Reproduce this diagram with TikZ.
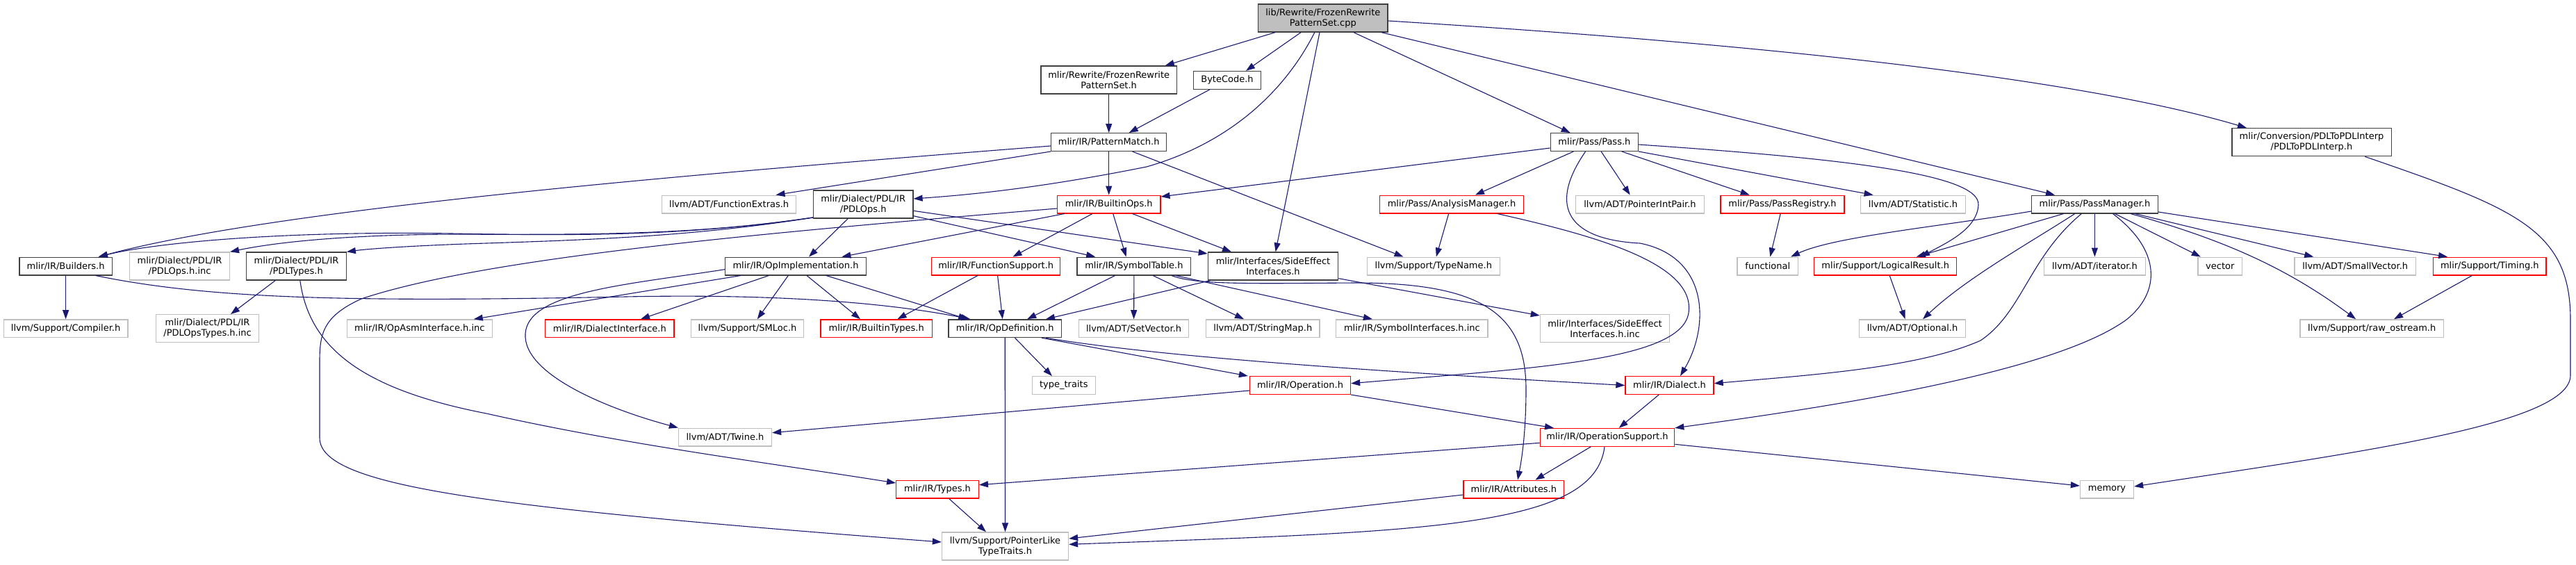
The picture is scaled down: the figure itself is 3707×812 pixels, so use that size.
\documentclass[tikz,border=0pt]{standalone}
\usepackage{fontspec}
\setmainfont{DejaVu Sans}
\usetikzlibrary{arrows.meta,calc}
\definecolor{edgec}{HTML}{191970}
\definecolor{grayb}{HTML}{BFBFBF}
\definecolor{rootfill}{HTML}{BFBFBF}
\definecolor{darkb}{HTML}{404040}
\definecolor{redb}{HTML}{FF0000}
\newcommand{\nodefont}{\fontsize{13}{15}\selectfont}
\tikzset{
  box/.style={line width=1.3pt, fill=white, inner sep=0pt, align=center, font=\nodefont, text=black},
  nb/.style={box, draw=darkb},
  ng/.style={box, draw=grayb},
  nr/.style={box, draw=redb},
  one/.style={minimum height=25.7pt},
  two/.style={minimum height=40pt},
  e/.style={draw=edgec, line width=1.1pt, -{Triangle[length=13pt,width=9pt,color=edgec,fill=edgec]}},
}
\begin{document}
\begin{tikzpicture}[x=1pt,y=-1pt]
\fill[white] (0,0) rectangle (3707,812);
\useasboundingbox (0,0) rectangle (3707,812);

% rank 0
\node[nb,two,fill=rootfill,minimum width=186.2pt] (root) at (1903.8,26) {lib/Rewrite/FrozenRewrite\\PatternSet.cpp};
% rank 1
\node[nb,two,minimum width=195.7pt] (frozenh) at (1595.7,115) {mlir/Rewrite/FrozenRewrite\\PatternSet.h};
\node[nb,one,minimum width=97.3pt] (bytecode) at (1766,115.3) {ByteCode.h};
% rank 2
\node[nb,one,minimum width=166pt] (patternmatch) at (1595.7,204.5) {mlir/IR/PatternMatch.h};
\node[nb,one,minimum width=126.3pt] (pass) at (2294.4,204.5) {mlir/Pass/Pass.h};
\node[nb,two,minimum width=229.3pt] (pdltopdl) at (3326.5,204.7) {mlir/Conversion/PDLToPDLInterp\\/PDLToPDLInterp.h};
% rank 3
\node[ng,one,minimum width=192.8pt] (funcextras) at (1049.2,294) {llvm/ADT/FunctionExtras.h};
\node[nb,two,minimum width=143.5pt] (pdlops) at (1242.2,294) {mlir/Dialect/PDL/IR\\/PDLOps.h};
\node[nr,one,minimum width=148.3pt] (builtinops) at (1595.7,294) {mlir/IR/BuiltinOps.h};
\node[nr,one,minimum width=207pt] (analysis) at (2089,294) {mlir/Pass/AnalysisManager.h};
\node[ng,one,minimum width=185pt] (ptrintpair) at (2360,294) {llvm/ADT/PointerIntPair.h};
\node[nr,one,minimum width=178pt] (passreg) at (2565,294) {mlir/Pass/PassRegistry.h};
\node[ng,one,minimum width=150.7pt] (statistic) at (2753,294) {llvm/ADT/Statistic.h};
\node[nb,one,minimum width=181.8pt] (passmgr) at (3014.4,294) {mlir/Pass/PassManager.h};
% rank 4
\node[nb,one,minimum width=133.4pt] (builders) at (94.6,383) {mlir/IR/Builders.h};
\node[ng,two,minimum width=143.6pt] (pdlopsinc) at (258.6,383) {mlir/Dialect/PDL/IR\\/PDLOps.h.inc};
\node[nb,two,minimum width=143.5pt] (pdltypes) at (426.5,383) {mlir/Dialect/PDL/IR\\/PDLTypes.h};
\node[nb,one,minimum width=203pt] (opimpl) at (1145,383) {mlir/IR/OpImplementation.h};
\node[nr,one,minimum width=185pt] (funcsupport) at (1433.2,383) {mlir/IR/FunctionSupport.h};
\node[nb,one,minimum width=163.7pt] (symboltable) at (1631.9,383) {mlir/IR/SymbolTable.h};
\node[nb,two,minimum width=187.3pt] (sideeffect) at (1832,383) {mlir/Interfaces/SideEffect\\Interfaces.h};
\node[ng,one,minimum width=191pt] (typename) at (2062.8,383) {llvm/Support/TypeName.h};
\node[ng,one,minimum width=87.8pt] (functional) at (2543.8,383) {functional};
\node[nr,one,minimum width=204.8pt] (logical) at (2713.2,383) {mlir/Support/LogicalResult.h};
\node[ng,one,minimum width=145.8pt] (iterator) at (3014.4,383) {llvm/ADT/iterator.h};
\node[ng,one,minimum width=63.6pt] (vector) at (3194.8,383) {vector};
\node[ng,one,minimum width=174.7pt] (smallvector) at (3389.2,383) {llvm/ADT/SmallVector.h};
\node[nr,one,minimum width=162.5pt] (timing) at (3582.8,383) {mlir/Support/Timing.h};
% rank 5
\node[ng,one,minimum width=178.6pt] (compiler) at (94.6,472.7) {llvm/Support/Compiler.h};
\node[ng,two,minimum width=147.7pt] (pdlopstypesinc) at (298.6,472.7) {mlir/Dialect/PDL/IR\\/PDLOpsTypes.h.inc};
\node[ng,one,minimum width=208.8pt] (opasm) at (603.8,472.7) {mlir/IR/OpAsmInterface.h.inc};
\node[nr,one,minimum width=185.3pt] (dialectiface) at (877.4,472.7) {mlir/IR/DialectInterface.h};
\node[ng,one,minimum width=162.5pt] (smloc) at (1075.5,472.7) {llvm/Support/SMLoc.h};
\node[nr,one,minimum width=160.2pt] (builtintypes) at (1261.2,472.7) {mlir/IR/BuiltinTypes.h};
\node[nb,one,minimum width=162.5pt] (opdef) at (1446.2,472.7) {mlir/IR/OpDefinition.h};
\node[ng,one,minimum width=158.4pt] (setvector) at (1631.6,472.7) {llvm/ADT/SetVector.h};
\node[ng,one,minimum width=163.3pt] (stringmap) at (1817.3,472.7) {llvm/ADT/StringMap.h};
\node[ng,one,minimum width=218.2pt] (symiface) at (2031.9,472.7) {mlir/IR/SymbolInterfaces.h.inc};
\node[ng,two,minimum width=186.2pt] (sideeffinc) at (2309.5,472.7) {mlir/Interfaces/SideEffect\\Interfaces.h.inc};
\node[ng,one,minimum width=153pt] (optional) at (2752,472.7) {llvm/ADT/Optional.h};
\node[ng,one,minimum width=206.3pt] (rawostream) at (3413.2,472.7) {llvm/Support/raw\_ostream.h};
% rank 6
\node[ng,one,minimum width=90.8pt] (typetraits) at (1530.8,554.5) {type\_traits};
\node[nr,one,minimum width=145pt] (operation) at (1871,554.5) {mlir/IR/Operation.h};
\node[nr,one,minimum width=127pt] (dialect) at (2402.5,554.5) {mlir/IR/Dialect.h};
% rank 7
\node[ng,one,minimum width=134pt] (twine) at (1043.5,629) {llvm/ADT/Twine.h};
\node[nr,one,minimum width=193.3pt] (opsupport) at (2313,629.3) {mlir/IR/OperationSupport.h};
% rank 8
\node[nr,one,minimum width=118.6pt] (types) at (1349,704) {mlir/IR/Types.h};
\node[nr,one,minimum width=144.8pt] (attributes) at (2178.4,704) {mlir/IR/Attributes.h};
\node[ng,one,minimum width=77pt] (memory) at (3032,704) {memory};
% rank 9
\node[ng,two,minimum width=182pt] (pointerlike) at (1446.5,786) {llvm/Support/PointerLike\\TypeTraits.h};

% ---- edges from root
\draw[e] ($(root.south)+(-68.8,0)$) -- ($(frozenh.north)+(81,0)$);
\draw[e] ($(root.south)+(-31.8,0)$) -- ($(bytecode.north)+(27,0)$);
\draw[e] ($(root.south)+(-12,0)$) .. controls (1860,110) and (1790,200) .. (1650,240) .. controls (1500,270) and (1400,280) .. ($(pdlops.east)+(0,-8)$);
\draw[e] ($(root.south)+(-4.8,0)$) -- ($(sideeffect.north)+(3.6,0)$);
\draw[e] ($(root.south)+(44.2,0)$) -- ($(pass.north)+(-34.7,0)$);
\draw[e] ($(root.south)+(84.2,0)$) -- ($(passmgr.north)+(-57.4,0)$);
\draw[e] ($(root.east)+(0,4)$) .. controls (2400,55) and (2950,100) .. ($(pdltopdl.north)+(-93.5,0)$);

% ---- rank 1
\draw[e] (frozenh.south) -- (patternmatch.north);
\draw[e] ($(bytecode.south)+(-25,0)$) -- ($(patternmatch.north)+(29,0)$);

% ---- PatternMatch
\draw[e] ($(patternmatch.west)+(0,5.5)$) .. controls (1000,250) and (400,300) .. ($(builders.north)+(47.4,0)$);
\draw[e] (patternmatch.south west) -- ($(funcextras.north)+(67.3,0)$);
\draw[e] (patternmatch.south) -- (builtinops.north);
\draw[e] ($(patternmatch.south)+(33.8,0)$) -- ($(typename.north)+(-43.3,0)$);

% ---- Pass.h
\draw[e] ($(pass.west)+(0,8.5)$) -- ($(builtinops.east)+(0,-11)$);
\draw[e] ($(pass.south)+(-30,0)$) -- ($(analysis.north)+(34,0)$);
\draw[e] ($(pass.south)+(-12.8,0)$) .. controls (2225,300) and (2260,345) .. (2360,350) .. controls (2460,370) and (2460,470) .. ($(dialect.north)+(15.5,0)$);
\draw[e] ($(pass.south)+(9.7,0)$) -- ($(ptrintpair.north)+(-14.3,0)$);
\draw[e] ($(pass.south)+(39.4,0)$) -- ($(passreg.north)+(-47.3,0)$);
\draw[e] (pass.south east) -- ($(statistic.north)+(-57.4,0)$);
\draw[e] ($(pass.east)+(0,3.5)$) .. controls (2650,228) and (2850,250) .. (2847,295) .. controls (2845,330) and (2800,350) .. ($(logical.north)+(50.8,0)$);

% ---- AnalysisManager
\draw[e] ($(analysis.south)+(-4.3,0)$) -- ($(typename.north)+(4,0)$);
\draw[e] ($(analysis.south)+(65.7,0)$) .. controls (2300,340) and (2440,380) .. (2430,450) .. controls (2420,520) and (2200,530) .. ($(operation.east)+(0,-2.8)$);

% ---- PassRegistry
\draw[e] ($(passreg.south)+(-2.8,0)$) -- ($(functional.north)+(3.5,0)$);

% ---- PassManager
\draw[e] ($(passmgr.west)+(0,10)$) .. controls (2800,325) and (2640,340) .. ($(functional.north)+(33.2,0)$);
\draw[e] ($(passmgr.south)+(-44.7,0)$) -- ($(logical.north)+(44.6,0)$);
\draw[e] ($(passmgr.south)+(-28.6,0)$) .. controls (2920,350) and (2830,400) .. ($(optional.north)+(15,0)$);
\draw[e] ($(passmgr.south)+(-19,0)$) .. controls (2920,370) and (2910,450) .. (2850,490) .. controls (2760,530) and (2600,540) .. ($(dialect.east)+(0,-2.8)$);
\draw[e] (passmgr.south) -- (iterator.north);
\draw[e] ($(passmgr.south)+(26,0)$) .. controls (3110,360) and (3110,420) .. (3060,460) .. controls (2950,540) and (2600,590) .. (opsupport.north east);
\draw[e] ($(passmgr.south)+(29,0)$) -- ($(vector.north)+(-28,0)$);
\draw[e] ($(passmgr.south)+(51.6,0)$) .. controls (3200,345) and (3290,385) .. ($(rawostream.north)+(-23,0)$);
\draw[e] ($(passmgr.south)+(58,0)$) -- ($(smallvector.north)+(-60,0)$);
\draw[e] ($(passmgr.east)+(0,11)$) -- ($(timing.north)+(-60.8,0)$);

\draw[e] ($(timing.south)+(-25.4,0)$) -- ($(rawostream.north)+(31.8,0)$);
\draw[e] ($(logical.south)+(6,0)$) -- ($(optional.north)+(-10.3,0)$);
\draw[e] ($(pdltopdl.south)+(76.8,0)$) .. controls (3620,300) and (3699,330) .. (3699,460) -- (3699,540) .. controls (3699,610) and (3400,650) .. ($(memory.east)+(0,-4)$);

% ---- BuiltinOps
\draw[e] ($(builtinops.south)+(-64,0)$) -- ($(opimpl.north)+(66.4,0)$);
\draw[e] ($(builtinops.south)+(-23.7,0)$) -- ($(funcsupport.north)+(24.3,0)$);
\draw[e] ($(builtinops.south)+(6,0)$) -- ($(symboltable.north)+(-11.3,0)$);
\draw[e] ($(builtinops.south)+(33.8,0)$) -- ($(sideeffect.north)+(-60,0)$);
\draw[e] ($(builtinops.west)+(0,6)$) .. controls (1100,335) and (700,370) .. (520,430) .. controls (465,455) and (460,480) .. (460,520) -- (460,630) .. controls (460,700) and (700,730) .. ($(pointerlike.west)+(0,-6)$);

% ---- PDLOps
\draw[e] ($(pdlops.west)+(0,19)$) .. controls (1000,338) and (850,340) .. (650,336) .. controls (400,332) and (220,350) .. ($(builders.north)+(47,0)$);
\draw[e] ($(pdlops.west)+(0,19)$) .. controls (1000,338) and (850,338) .. (650,337) .. controls (500,338) and (400,348) .. (pdlopsinc.north east);
\draw[e] ($(pdlops.west)+(0,19)$) .. controls (1000,340) and (850,345) .. (700,350) .. controls (600,353) and (530,358) .. (pdltypes.north east);
\draw[e] ($(pdlops.south)+(-22,0)$) -- ($(opimpl.north)+(19,0)$);
\draw[e] ($(pdlops.east)+(0,9.3)$) -- ($(sideeffect.west)+(0,-18)$);
\draw[e] ($(pdlops.east)+(0,16.7)$) -- ($(symboltable.north)+(-55.7,0)$);

% ---- OpImplementation
\draw[e] ($(opimpl.west)+(0,4.7)$) .. controls (900,410) and (760,420) .. (756,480) .. controls (752,540) and (880,590) .. (twine.north west);
\draw[e] ($(opimpl.south)+(-79,0)$) -- ($(opasm.north)+(78,0)$);
\draw[e] ($(opimpl.south)+(-38.6,0)$) -- ($(dialectiface.north)+(44.6,0)$);
\draw[e] ($(opimpl.south)+(-10.7,0)$) -- ($(smloc.north)+(14.3,0)$);
\draw[e] ($(opimpl.south)+(16,0)$) -- ($(builtintypes.north)+(-23.2,0)$);
\draw[e] ($(opimpl.south)+(43.8,0)$) -- ($(opdef.north)+(-54,0)$);

% ---- FunctionSupport
\draw[e] ($(funcsupport.south)+(-26.2,0)$) -- ($(builtintypes.north)+(30.3,0)$);
\draw[e] ($(funcsupport.south)+(2.4,0)$) -- ($(opdef.north)+(-3.5,0)$);

% ---- SymbolTable
\draw[e] ($(symboltable.south)+(-27.3,0)$) -- ($(opdef.north)+(32,0)$);
\draw[e] (symboltable.south) -- (setvector.north);
\draw[e] ($(symboltable.south)+(27.3,0)$) -- ($(stringmap.north)+(-27.3,0)$);
\draw[e] ($(symboltable.south)+(60,0)$) -- ($(symiface.north)+(-57,0)$);
\draw[e] ($(symboltable.south)+(54,0)$) .. controls (1720,410) and (1800,408) .. (1950,407) .. controls (2130,407) and (2196,450) .. (2196,560) .. controls (2196,630) and (2188,670) .. ($(attributes.north)+(5.6,0)$);

% ---- SideEffectInterfaces
\draw[e] ($(sideeffect.south west)+(4,0)$) -- ($(opdef.north)+(58.8,0)$);
\draw[e] ($(sideeffect.south east)+(0,-3)$) -- ($(sideeffinc.north west)+(0,2)$);

% ---- Builders
\draw[e] (builders.south) -- (compiler.north);
\draw[e] ($(builders.south)+(43,0)$) .. controls (300,430) and (500,435) .. (900,427) .. controls (1150,422) and (1300,440) .. ($(opdef.north)+(-50,0)$);

% ---- PDLTypes
\draw[e] ($(pdltypes.south)+(-30.3,0)$) -- ($(pdlopstypesinc.north)+(33.4,0)$);
\draw[e] ($(pdltypes.south)+(5.3,0)$) .. controls (445,500) and (520,560) .. (700,595) .. controls (900,640) and (1100,665) .. ($(types.west)+(0,-9)$);

% ---- OpDefinition
\draw[e] ($(opdef.south)+(14.3,0)$) -- ($(typetraits.north)+(-16.9,0)$);
\draw[e] (opdef.south) -- (pointerlike.north);
\draw[e] ($(opdef.south)+(52.8,0)$) -- ($(operation.north west)+(-2,0)$);
\draw[e] ($(opdef.south)+(58.8,0)$) .. controls (1650,510) and (1900,530) .. (dialect.west);

% ---- Operation, Dialect
\draw[e] ($(operation.west)+(0,7.5)$) -- ($(twine.east)+(0,-6.3)$);
\draw[e] (operation.south east) -- ($(opsupport.north)+(-77,0)$);
\draw[e] ($(dialect.south)+(-15.3,0)$) -- ($(opsupport.north)+(16.7,0)$);

% ---- OperationSupport
\draw[e] ($(opsupport.south)+(-23.7,0)$) -- ($(attributes.north)+(31,0)$);
\draw[e] ($(opsupport.west)+(0,8)$) -- ($(types.east)+(0,-6.3)$);
\draw[e] ($(opsupport.east)+(0,10)$) -- ($(memory.west)+(0,-5)$);
\draw[e] ($(opsupport.south)+(-4,0)$) .. controls (2295,760) and (2050,765) .. ($(pointerlike.east)+(0,-2.7)$);

% ---- Types, Attributes
\draw[e] ($(types.south)+(16.6,0)$) -- ($(pointerlike.north)+(-27.5,0)$);
\draw[e] ($(attributes.west)+(0,8)$) -- ($(pointerlike.east)+(0,-11)$);
\end{tikzpicture}
\end{document}
